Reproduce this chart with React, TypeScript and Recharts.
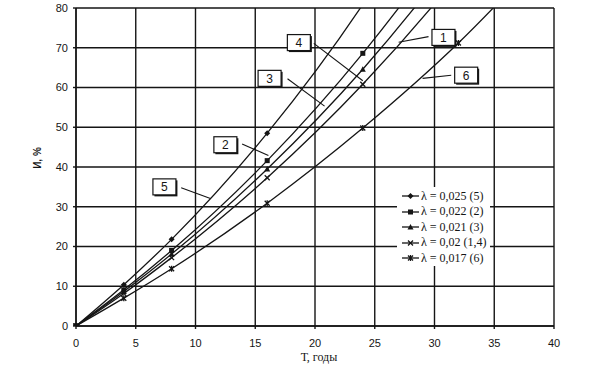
import React from 'react';
import { LineChart, Line, XAxis, YAxis, CartesianGrid, Legend, ReferenceLine, ReferenceDot } from 'recharts';

// Time, years
const years = [0, 4, 8, 16, 24, 32, 40];
// И, % for each λ
const wear5 = [0, 10.4, 21.8, 48.5, 80.9, 120.4, 168.5]; // λ = 0,025 (5)
const wear2 = [0, 9.1, 19.0, 41.6, 68.6, 100.7, 138.7]; // λ = 0,022 (2)
const wear3 = [0, 8.7, 18.1, 39.5, 64.6, 94.4, 129.6]; // λ = 0,021 (3)
const wear14 = [0, 8.2, 17.2, 37.3, 60.8, 88.4, 120.8]; // λ = 0,02 (1,4)
const wear6 = [0, 7.0, 14.4, 30.9, 49.8, 71.2, 96.2]; // λ = 0,017 (6)

const seriesNames = ['λ = 0,025 (5)', 'λ = 0,022 (2)', 'λ = 0,021 (3)', 'λ = 0,02 (1,4)', 'λ = 0,017 (6)'];
const seriesKeys = ['s5', 's2', 's3', 's14', 's6'];
const seriesMarkers = ['diamond', 'square', 'triangle', 'x', 'asterisk'];
const seriesValues = [wear5, wear2, wear3, wear14, wear6];

const xTicks = [0, 5, 10, 15, 20, 25, 30, 35, 40];
const yTicks = [0, 10, 20, 30, 40, 50, 60, 70, 80];

// Callout labels (anchors in data units)
const calloutLabels = ['1', '2', '3', '4', '5', '6'];
const calloutBoxT = [30.75, 12.5, 16.2, 18.65, 7.4, 32.65];
const calloutBoxV = [72.6, 45.6, 62.3, 71.3, 35.0, 63.1];
const leaderFromT = [29.5, 13.9, 17.7, 19.9, 8.8, 31.4];
const leaderFromV = [72.8, 45.8, 62.2, 71.1, 34.8, 63.1];
const leaderToT = [27.0, 16.1, 20.8, 24.0, 11.25, 29.0];
const leaderToV = [71.4, 42.9, 55.3, 61.7, 32.1, 62.3];

const data = years.map((t, i) => {
  const row: Record<string, number> = { T: t };
  seriesKeys.forEach((k, j) => {
    row[k] = seriesValues[j][i];
  });
  return row;
});

const INK = '#151515';

function Marker({ shape, cx, cy }: { shape: string; cx: number; cy: number }) {
  if (cx == null || cy == null || isNaN(cx) || isNaN(cy)) return null;
  switch (shape) {
    case 'diamond':
      return <path d={`M${cx},${cy - 3}L${cx + 3},${cy}L${cx},${cy + 3}L${cx - 3},${cy}Z`} fill={INK} />;
    case 'square':
      return <rect x={cx - 2.5} y={cy - 2.5} width={5} height={5} fill={INK} />;
    case 'triangle':
      return <path d={`M${cx},${cy - 3}L${cx + 3},${cy + 2.5}L${cx - 3},${cy + 2.5}Z`} fill={INK} />;
    case 'x':
      return (
        <g stroke={INK} strokeWidth={1.3}>
          <line x1={cx - 2.5} y1={cy - 2.5} x2={cx + 2.5} y2={cy + 2.5} />
          <line x1={cx - 2.5} y1={cy + 2.5} x2={cx + 2.5} y2={cy - 2.5} />
        </g>
      );
    default:
      return (
        <g stroke={INK} strokeWidth={1.3}>
          <line x1={cx - 2.5} y1={cy - 2.5} x2={cx + 2.5} y2={cy + 2.5} />
          <line x1={cx - 2.5} y1={cy + 2.5} x2={cx + 2.5} y2={cy - 2.5} />
          <line x1={cx} y1={cy - 3} x2={cx} y2={cy + 3} />
        </g>
      );
  }
}

function CalloutBox(props: any) {
  const { cx, cy, text } = props;
  if (cx == null || cy == null) return null;
  const w = 23;
  const h = 16;
  return (
    <g>
      <rect x={cx - w / 2 + 1.5} y={cy - h / 2 + 1.5} width={w} height={h} fill={INK} />
      <rect x={cx - w / 2} y={cy - h / 2} width={w} height={h} fill="#fff" stroke={INK} strokeWidth={1.2} />
      <text x={cx} y={cy + 4.5} textAnchor="middle" fontFamily="Liberation Sans, Arial, sans-serif" fontSize={12} fill={INK}>
        {text}
      </text>
    </g>
  );
}

function LegendContent() {
  return (
    <div style={{ paddingTop: 1.5, background: '#fff' }}>
      {seriesNames.map((name, i) => (
        <div key={name} style={{ display: 'flex', alignItems: 'center', height: 15.5, fontFamily: '"Liberation Serif", "Times New Roman", serif', fontSize: 12, color: INK, whiteSpace: 'nowrap' }}>
          <svg width={17} height={10} style={{ marginLeft: 5, marginRight: 2, overflow: 'visible' }}>
            <line x1={0} y1={5} x2={17} y2={5} stroke={INK} strokeWidth={1.3} />
            <Marker shape={seriesMarkers[i]} cx={8.5} cy={5} />
          </svg>
          <span>{name}</span>
        </div>
      ))}
    </div>
  );
}

export default function App() {
  return (
    <div style={{ position: 'absolute', left: 0, top: 0, width: 594, height: 369, background: '#fff' }}>
      <LineChart width={594} height={369} data={data} margin={{ top: 8, right: 40, bottom: 13, left: 36 }}>
        <CartesianGrid stroke={INK} strokeWidth={1.4} horizontalValues={yTicks} verticalValues={xTicks} />
        <XAxis
          dataKey="T"
          type="number"
          domain={[0, 40]}
          ticks={xTicks}
          height={30}
          stroke={INK}
          strokeWidth={1.4}
          tickSize={3}
          tickMargin={10}
          tick={{ fill: INK, fontSize: 11, fontFamily: 'Liberation Sans, Arial, sans-serif' }}
          label={{ value: 'Т, годы', position: 'insideBottom', dx: 4, dy: 10, fill: INK, fontSize: 12, fontFamily: '"Liberation Serif", "Times New Roman", serif' }}
        />
        <YAxis
          type="number"
          domain={[0, 80]}
          allowDataOverflow
          ticks={yTicks}
          width={40}
          stroke={INK}
          strokeWidth={1.4}
          tickSize={3}
          tickMargin={5}
          tick={{ fill: INK, fontSize: 11, fontFamily: 'Liberation Sans, Arial, sans-serif' }}
          label={{ value: 'И, %', angle: -90, position: 'center', dx: -19, dy: -9, fill: INK, fontSize: 10, fontWeight: 'bold', fontFamily: 'Liberation Sans, Arial, sans-serif' }}
        />
        {seriesKeys.map((k, i) => (
          <Line
            key={k}
            dataKey={k}
            name={seriesNames[i]}
            type="monotone"
            stroke={INK}
            strokeWidth={1.3}
            isAnimationActive={false}
            dot={(p: any) => <Marker key={`${k}-${p.index}`} shape={seriesMarkers[i]} cx={p.cx} cy={p.cy} />}
            activeDot={false}
          />
        ))}
        {calloutLabels.map((lab, i) => (
          <ReferenceLine
            key={`leader-${lab}`}
            segment={[
              { x: leaderFromT[i], y: leaderFromV[i] },
              { x: leaderToT[i], y: leaderToV[i] },
            ]}
            stroke={INK}
            strokeWidth={1.1}
          />
        ))}
        {calloutLabels.map((lab, i) => (
          <ReferenceDot
            key={`box-${lab}`}
            x={calloutBoxT[i]}
            y={calloutBoxV[i]}
            r={0}
            shape={(p: any) => <CalloutBox cx={p.cx} cy={p.cy} text={lab} />}
          />
        ))}
        <Legend
          layout="vertical"
          align="center"
          verticalAlign="middle"
          wrapperStyle={{ left: 397, top: 187, width: 93, height: 83 }}
          content={() => <LegendContent />}
        />
      </LineChart>
    </div>
  );
}
